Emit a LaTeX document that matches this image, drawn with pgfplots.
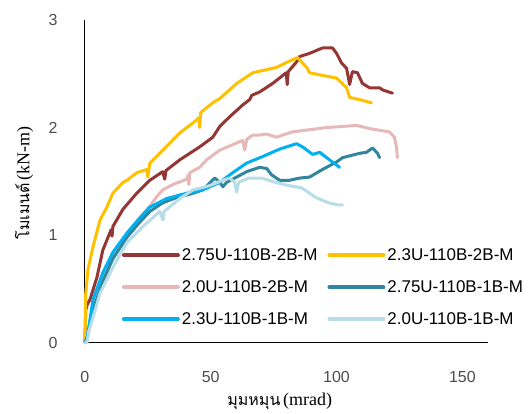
\documentclass[border=0pt]{standalone}
\usepackage{pgfplots}
\pgfplotsset{compat=1.18}
\usepackage{fontspec}
\setmainfont{Liberation Sans}
\newfontfamily\thai[Script=Thai]{Loma}
\newfontfamily\serif{Liberation Serif}
\definecolor{cRed}{HTML}{943634}
\definecolor{cYel}{HTML}{FFC000}
\definecolor{cPink}{HTML}{E6B9B8}
\definecolor{cTeal}{HTML}{31859C}
\definecolor{cBlue}{HTML}{00B0F0}
\definecolor{cLBlue}{HTML}{B7DEE8}
\begin{document}
\begin{tikzpicture}
\begin{axis}[
  scale only axis, width=403pt, height=323pt,
  xmin=0, xmax=160, ymin=0, ymax=3,
  xtick={0,50,100,150}, ytick={0,1,2,3},
  axis x line*=bottom, axis y line*=left,
  axis line style={black, line width=1pt},
  major tick length=0pt,
  clip=false,
  /pgf/number format/assume math mode=true,
  tick label style={font=\fontsize{16}{19}\selectfont, text=black!70},
  xticklabel style={anchor=center, yshift=-34pt},
  yticklabel style={anchor=center, xshift=-32pt},
  xlabel={{\thai\fontsize{16}{19}\selectfont มุมหมุน} {\serif\fontsize{18}{21}\selectfont (mrad)}},
  ylabel={{\thai\fontsize{16}{19}\selectfont โมเมนต์} {\serif\fontsize{18}{21}\selectfont (kN-m)}},
  xlabel style={at={(rel axis cs:0.484,-0.183)}, anchor=center},
  ylabel style={at={(rel axis cs:-0.151,0.495)}, anchor=center},
  legend columns=2,
  legend cell align=left,
  legend style={at={(rel axis cs:0.084,0.304)}, anchor=north west, draw=none, fill=none,
    font=\fontsize{17}{20}\selectfont, row sep=14.5pt,
    /tikz/every even column/.append style={column sep=8pt}},
  legend image code/.code={\draw[#1, line width=4pt] (0pt,0pt) -- (54pt,0pt);},
  every axis plot/.append style={line width=3pt, line join=round, line cap=round},
]
\coordinate (bl) at (rel axis cs:-0.211,-0.207);
\coordinate (tr) at (rel axis cs:1.099,1.062);
% 2.75U-110B-2B-M
\addplot[cRed] coordinates {
(0,0) (0.3,0.30) (1.0,0.36) (2.0,0.40) (4.8,0.61) (7.1,0.86) (10.4,1.05) (10.8,0.99) (11.1,1.08)
(15.1,1.24) (20.6,1.39) (25.8,1.51) (30.9,1.59) (31.7,1.52) (32.2,1.60) (37.7,1.70)
(45.6,1.82) (50.8,1.91) (53.6,2.01) (57.5,2.10) (62.7,2.21) (65.5,2.26) (66.3,2.30)
(69.4,2.33) (74.6,2.41) (80.0,2.51) (80.4,2.40) (80.8,2.52) (84.1,2.61) (85.3,2.66)
(89.3,2.69) (94.4,2.74) (98.4,2.74) (100,2.69) (102,2.60) (104,2.55) (105.2,2.40)
(106.3,2.52) (108.3,2.51) (110.3,2.41) (113.1,2.37) (117.1,2.37) (118.3,2.35) (122.2,2.32)
};
\addlegendentry{2.75U-110B-2B-M}
% 2.3U-110B-2B-M
\addplot[cYel] coordinates {
(0,0) (0.1,0.1) (0.3,0.45) (1.2,0.68) (3.2,0.89) (6.0,1.14) (8.7,1.26) (11.1,1.39)
(15.1,1.49) (16.7,1.51) (20.6,1.58) (24.6,1.61) (25.0,1.54) (25.8,1.67) (31.0,1.79)
(37.7,1.95) (44.4,2.07) (45.2,2.09) (45.6,2.00) (46.0,2.14) (50.8,2.23) (53.6,2.27)
(60.3,2.41) (66.7,2.51) (70.6,2.53) (76.2,2.56) (80.6,2.61) (84.5,2.65) (88.1,2.56)
(89.3,2.51) (93.3,2.49) (100,2.46) (104,2.37) (105.2,2.28) (109.1,2.26) (113.9,2.23)
};
\addlegendentry{2.3U-110B-2B-M}
% 2.0U-110B-2B-M
\addplot[cPink] coordinates {
(0,0) (1,0.08) (3.2,0.35) (7.1,0.62) (11.1,0.83) (16.7,1.01) (21.8,1.16) (25.8,1.27)
(28.6,1.36) (30.9,1.42) (34.9,1.47) (40.5,1.52) (41.0,1.56) (41.3,1.47) (41.7,1.58)
(45.6,1.63) (48.4,1.70) (53.6,1.79) (62.7,1.88) (63.5,1.79) (64.3,1.89) (66.7,1.93)
(69.4,1.93) (72.2,1.94) (76.2,1.91) (78.6,1.93) (82.5,1.96) (89.3,1.98) (96,2.00)
(102.4,2.01) (107.9,2.02) (113.1,1.99) (121.0,1.96) (123.0,1.91) (123.8,1.82) (124.2,1.72)
};
\addlegendentry{2.0U-110B-2B-M}
% 2.75U-110B-1B-M
\addplot[cTeal] coordinates {
(0,0) (1,0.06) (3.2,0.30) (7.1,0.57) (11.1,0.78) (16.7,0.98) (21.8,1.12) (25.8,1.22)
(30.9,1.30) (37.7,1.36) (41.7,1.38) (46.8,1.42) (51.6,1.53) (53.6,1.49) (54.8,1.45)
(56.3,1.49) (60.3,1.54) (64.3,1.59) (69.4,1.63) (72.2,1.62) (74.2,1.56) (77.4,1.51)
(81.3,1.51) (85.3,1.53) (89.3,1.54) (94.4,1.61) (100,1.68) (102.4,1.72) (109.1,1.76)
(111.9,1.77) (114.3,1.81) (116.3,1.76) (117.1,1.72)
};
\addlegendentry{2.75U-110B-1B-M}
% 2.3U-110B-1B-M
\addplot[cBlue] coordinates {
(0,0) (0.8,0.03) (3.2,0.40) (7.1,0.65) (11.1,0.84) (16.7,1.02) (21.8,1.16) (25.8,1.26)
(32.5,1.34) (40.5,1.39) (46.8,1.42) (53.6,1.49) (58.7,1.58) (64.3,1.67) (70.6,1.73)
(77.4,1.80) (84.1,1.85) (86.5,1.82) (90.5,1.75) (93.3,1.77) (97.2,1.70) (101.2,1.63)
};
\addlegendentry{2.3U-110B-1B-M}
% 2.0U-110B-1B-M
\addplot[cLBlue] coordinates {
(0,0) (0.8,0.0) (1.5,0.1) (6.0,0.46) (11.1,0.70) (16.7,0.93) (23.0,1.08) (29.8,1.22)
(31.0,1.14) (31.5,1.22) (37.7,1.34) (42.9,1.42) (49.6,1.46) (54.8,1.51) (57.5,1.53)
(59.5,1.49) (60.3,1.40) (61.1,1.49) (65.1,1.53) (70.2,1.53) (75.8,1.49) (81.0,1.46)
(86.1,1.44) (91.7,1.35) (96.8,1.30) (100.8,1.28) (102.4,1.28)
};
\addlegendentry{2.0U-110B-1B-M}
\end{axis}
\path (bl) rectangle (tr);
\end{tikzpicture}
\end{document}
